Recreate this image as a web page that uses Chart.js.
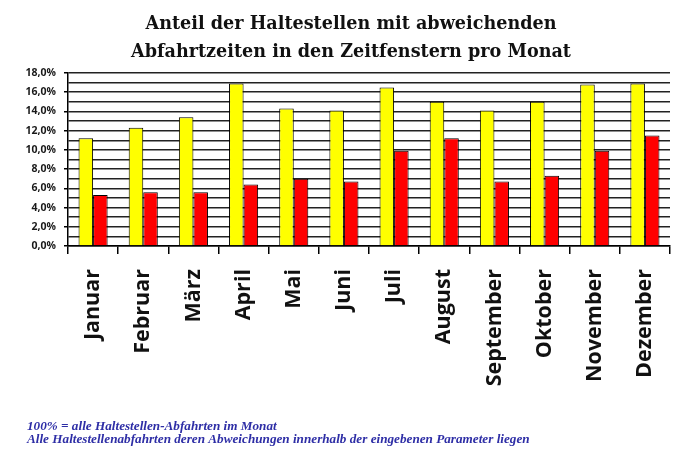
<!DOCTYPE html>
<html><head><meta charset="utf-8">
<script src="https://cdn.jsdelivr.net/npm/chart.js@4"></script>
<style>html,body{margin:0;padding:0;background:#fff}</style>
</head><body>
<canvas id="c" width="675" height="450"></canvas>
<script>
const categories = ["Januar","Februar","März","April","Mai","Juni","Juli","August","September","Oktober","November","Dezember"];
const seriesAll = [11.2,12.3,13.4,16.9,14.3,14.1,16.5,15.0,14.1,15.0,16.8,16.9];
const seriesIn = [5.3,5.6,5.6,6.4,7.0,6.7,9.9,11.2,6.7,7.3,9.9,11.5];
const titleLines = ["Anteil der Haltestellen mit abweichenden","Abfahrtzeiten in den Zeitfenstern pro Monat"];
const footerLines = ["100% = alle Haltestellen-Abfahrten im Monat","Alle Haltestellenabfahrten deren Abweichungen innerhalb der eingebenen Parameter liegen"];

const textPlugin = {
  id: 'textBlocks',
  afterDraw(chart) {
    const ctx = chart.ctx;
    ctx.save();
    ctx.textBaseline = 'alphabetic';
    // title
    ctx.fillStyle = '#111';
    ctx.font = 'bold 17.6px "DejaVu Serif"';
    ctx.textAlign = 'center';
    ctx.fillText(titleLines[0], 351, 29);
    ctx.fillText(titleLines[1], 351, 57);
    // footer notes
    ctx.fillStyle = '#2e2ea6';
    ctx.font = 'italic bold 13.2px "Liberation Serif"';
    ctx.textAlign = 'left';
    ctx.fillText(footerLines[0], 27, 430);
    ctx.fillText(footerLines[1], 27, 443);
    ctx.restore();
  }
};

new Chart(document.getElementById('c'), {
  type: 'bar',
  data: {
    labels: categories,
    datasets: [
      {label: 'Alle', data: seriesAll, backgroundColor: '#ffff00', borderColor: '#000', borderWidth: 1, categoryPercentage: 0.58, barPercentage: 1},
      {label: 'Innerhalb', data: seriesIn, backgroundColor: '#ff0000', borderColor: '#000', borderWidth: 1, categoryPercentage: 0.58, barPercentage: 1}
    ]
  },
  options: {
    responsive: false,
    animation: false,
    layout: {padding: {left: 0, right: 5, top: 73, bottom: 60}},
    plugins: {
      legend: {display: false},
      tooltip: {enabled: false},
      title: {display: false}
    },
    scales: {
      x: {
        grid: {display: true, drawOnChartArea: false, offset: true, color: '#000', lineWidth: 1.5, tickLength: 8},
        border: {color: '#000', width: 1.5},
        ticks: {
          color: '#111', maxRotation: 90, minRotation: 90, autoSkip: false, padding: 15,
          font: {family: '"Open Sans"', weight: 'bold', size: 21.5}
        },
        afterFit(s) { s.height = 144; s.paddingLeft = 0; s.paddingRight = 0; }
      },
      y: {
        min: 0, max: 18,
        grid: {color: '#222', lineWidth: 1.5, tickLength: 4,
               tickColor: (c) => (c.tick && c.tick.value % 2 === 0) ? '#000' : 'rgba(0,0,0,0)'},
        border: {color: '#000', width: 1.5},
        ticks: {
          stepSize: 1, autoSkip: false, color: '#1a1a1a', padding: 8,
          font: {family: '"Open Sans"', weight: 'bold', size: 10.5},
          callback: (v) => v % 2 === 0 ? v.toFixed(1).replace('.', ',') + '%' : ''
        },
        afterFit(s) { s.width = 68; s.paddingTop = 0; s.paddingBottom = 0; }
      }
    }
  },
  plugins: [textPlugin]
});
</script>
</body></html>
